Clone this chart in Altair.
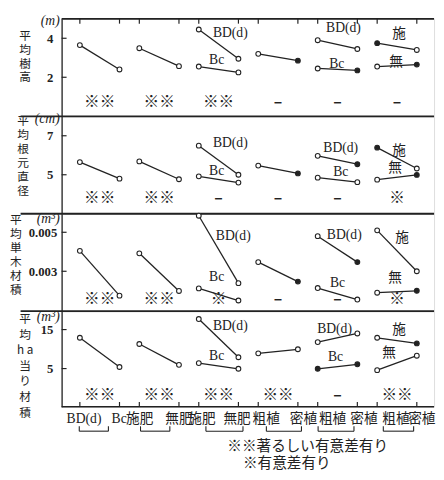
import altair as alt
import pandas as pd

# ---------------- data ----------------
X_LO, X_HI = -0.92, 17.87
X_SEP = -2.99  # left start of separator lines
XPOS = [0, 2, 3, 5, 6, 8, 9, 11, 12, 14, 15, 17]

series_ids = ["G1", "G2", "G3_BD", "G3_Bc", "G4", "G5_BD", "G5_Bc", "G6_shi", "G6_mu"]
series_x1 = [0, 3, 6, 6, 9, 12, 12, 15, 15]
series_x2 = [2, 5, 8, 8, 11, 14, 14, 17, 17]

height_first = [3.65, 3.49, 4.45, 2.55, 3.2, 3.9, 2.45, 3.75, 2.55]
height_second = [2.4, 2.57, 2.95, 2.25, 2.85, 3.45, 2.35, 3.4, 2.65]
diam_first = [5.65, 5.685, 6.49, 4.92, 5.47, 5.97, 4.85, 6.39, 4.75]
diam_second = [4.8, 4.77, 5.0, 4.6, 5.07, 5.54, 4.62, 5.32, 4.99]
vol_first = [0.00405, 0.00392, 0.00585, 0.00212, 0.00347, 0.0048, 0.00214, 0.0051, 0.0019]
vol_second = [0.00175, 0.00199, 0.00239, 0.0015, 0.00247, 0.00347, 0.00155, 0.003, 0.002]
ha_first = [12.9, 11.3, 17.7, 6.4, 8.9, 11.8, 4.95, 12.9, 4.6]
ha_second = [5.4, 5.95, 7.9, 4.95, 9.95, 14.0, 6.1, 11.45, 8.3]

filled_first = [
    [0, 0, 0, 0, 0, 0, 0, 1, 0],
    [0, 0, 0, 0, 0, 0, 0, 1, 0],
    [0, 0, 0, 0, 0, 0, 0, 0, 0],
    [0, 0, 0, 0, 0, 0, 1, 0, 0],
]
filled_second = [
    [0, 0, 0, 0, 1, 0, 1, 0, 1],
    [0, 0, 0, 0, 1, 1, 0, 0, 1],
    [0, 0, 0, 0, 1, 1, 0, 0, 1],
    [0, 0, 0, 0, 0, 0, 1, 1, 0],
]

label_texts = ["BD(d)", "Bc", "BD(d)", "Bc", "施", "無"]
label_x = [
    [7.59, 6.9, 13.3, 12.96, 16.1, 15.95],
    [7.59, 6.9, 13.16, 13.16, 16.1, 15.9],
    [7.74, 6.9, 13.34, 13.0, 16.25, 15.9],
    [7.59, 6.9, 12.85, 12.9, 16.1, 15.6],
]
label_y = [
    [4.25, 2.9, 4.5, 2.7, 4.2, 2.8],
    [6.6, 5.18, 6.38, 5.13, 6.23, 5.35],
    [0.0048, 0.002715, 0.00485, 0.002385, 0.004715, 0.002635],
    [16.0, 8.1, 15.2, 7.9, 14.8, 8.95],
]

marker_x = [1, 4, 7, 10, 13, 16]
marker_texts = [
    ["※※", "※※", "※※", "–", "–", "–"],
    ["※※", "※※", "–", "–", "–", "※"],
    ["※※", "※※", "※", "–", "–", "※"],
    ["※※", "※※", "※※", "※※", "–", "※※"],
]
marker_y = [0.75, 3.8, 0.00155, -1.7]

domains = [[0, 5], [3, 8], [0.00095, 0.00595], [-4.8, 19.7]]
heights = [100, 100, 100, 98]
yticks = [[2, 4], [5, 7], [0.003, 0.005], [5, 15]]
yformats = ["d", "d", ".3f", "d"]
titles = [
    ["平", "均", "樹", "高"],
    ["平", "均", "根", "元", "直", "径"],
    ["平", "均", "単", "木", "材", "積"],
    ["平", "均", "h a", "当", "り", "材", "積"],
]
title_x = [-38, -40, -47.5, -38]
title_y = [12.5, -1, 0.5, 2.5]
title_lh = [14, 14.5, 14.5, 16]
label_pad = [9, 9, 5, 9]
units = ["(m)", "(cm)", "(m³)", "(m³)"]
unit_y = [4.875, 7.85, 0.0057, 18.2]

xlabels = ["BD(d)", "Bc", "施肥", "無肥", "施肥", "無肥", "粗植", "密植", "粗植", "密植", "粗植", "密植"]
xlabel_x = [0.21, 1.98, 3.02, 5.0, 6.16, 7.93, 9.4, 11.28, 12.75, 14.33, 15.95, 17.25]
xlabel_y = -8.05
bracket_start = [-0.03, 3.06, 6.36, 9.41, 12.02, 15.31]
bracket_end = [1.44, 4.54, 8.23, 11.18, 13.83, 16.84]
bracket_y, bracket_top = -11.05, -9.8
legend_texts = ["※※著るしい有意差有り", "※有意差有り"]
legend_x = [7.44, 8.23]
legend_y = [-14.8, -19.3]

panel_first = [height_first, diam_first, vol_first, ha_first]
panel_second = [height_second, diam_second, vol_second, ha_second]

FONT = "'Liberation Serif', 'Noto Sans CJK JP'"
JFONT = "'Noto Sans CJK JP'"
INK = "#222222"


def make_panel(p):
    xs = alt.Scale(domain=[X_LO, X_HI], nice=False, zero=False)
    ys = alt.Scale(domain=domains[p], nice=False, zero=False)
    lo, hi = domains[p]
    span = hi - lo
    axis = alt.Axis(
        values=yticks[p], format=yformats[p], grid=False, tickSize=0,
        labelFont=FONT, labelFontSize=13, labelFontWeight="bold", labelColor=INK,
        labelPadding=label_pad[p], domainColor=INK, domainWidth=1.3,
        title=titles[p], titleAngle=0, titleX=title_x[p], titleY=title_y[p],
        titleAlign="center", titleBaseline="top", titleFont=JFONT,
        titleFontSize=12, titleFontWeight="normal", titleColor=INK,
        titleLineHeight=title_lh[p],
    )
    X = alt.X("x:Q", scale=xs, axis=None)
    Y = alt.Y("y:Q", scale=ys, axis=axis)

    rows = []
    for i, s in enumerate(series_ids):
        rows.append({"s": s, "x": series_x1[i], "y": panel_first[p][i], "f": filled_first[p][i]})
        rows.append({"s": s, "x": series_x2[i], "y": panel_second[p][i], "f": filled_second[p][i]})
    df = pd.DataFrame(rows)

    lines = alt.Chart(df).mark_line(color=INK, strokeWidth=1.3).encode(x=X, y=Y, detail="s:N")
    pts = alt.Chart(df).mark_point(shape="circle", filled=True, size=24, stroke=INK, strokeWidth=1.1, opacity=1).encode(
        x=X, y=Y,
        fill=alt.condition("datum.f == 1", alt.value(INK), alt.value("white")),
    )

    ldf = pd.DataFrame({"t": label_texts, "x": label_x[p], "y": label_y[p]})
    labels = alt.Chart(ldf).mark_text(font=FONT, fontSize=14, color=INK, baseline="middle").encode(x=X, y=Y, text="t:N")

    mdf = pd.DataFrame({"t": marker_texts[p], "x": marker_x, "y": [marker_y[p]] * 6})
    marks = alt.Chart(mdf).mark_text(font=JFONT, fontSize=16, fontWeight="bold", color=INK, baseline="middle").encode(x=X, y=Y, text="t:N")

    udf = pd.DataFrame({"t": [units[p]], "x": [X_LO], "y": [unit_y[p]]})
    unit = alt.Chart(udf).mark_text(font="'Liberation Serif'", fontStyle="italic", fontSize=14, color=INK,
                                     align="right", baseline="middle", dx=-2).encode(x=X, y=Y, text="t:N")

    # top border / separator
    sdf = pd.DataFrame({"x": [X_LO if p == 0 else X_SEP], "x2": [X_HI], "y": [hi]})
    sep = alt.Chart(sdf).mark_rule(color=INK, strokeWidth=1.8).encode(x=X, x2="x2:Q", y=Y)

    # inward y ticks
    tdf = pd.DataFrame({"x": [X_LO] * len(yticks[p]), "x2": [X_LO + 0.25] * len(yticks[p]), "y": yticks[p]})
    yt = alt.Chart(tdf).mark_rule(color=INK, strokeWidth=1.2).encode(x=X, x2="x2:Q", y=Y)

    layers = [sep, yt, lines, pts, labels, marks, unit]

    if p == 0:
        kdf = pd.DataFrame({"x": XPOS, "y": [hi] * 12, "y2": [hi - span * 0.05] * 12})
        layers.append(alt.Chart(kdf).mark_rule(color=INK, strokeWidth=1.2).encode(x=X, y=Y, y2="y2:Q"))
    if p == 3:
        kdf = pd.DataFrame({"x": XPOS, "y": [lo] * 12, "y2": [lo + span * 0.05] * 12})
        layers.append(alt.Chart(kdf).mark_rule(color=INK, strokeWidth=1.2).encode(x=X, y=Y, y2="y2:Q"))
        bdf = pd.DataFrame({"x": [X_LO], "x2": [X_HI], "y": [lo]})
        layers.append(alt.Chart(bdf).mark_rule(color=INK, strokeWidth=1.6).encode(x=X, x2="x2:Q", y=Y))
        xldf = pd.DataFrame({"t": xlabels, "x": xlabel_x, "y": [xlabel_y] * 12})
        layers.append(alt.Chart(xldf).mark_text(font=FONT, fontSize=14, color=INK, baseline="middle").encode(x=X, y=Y, text="t:N"))
        brdf = pd.DataFrame({"x": bracket_start, "x2": bracket_end, "y": [bracket_y] * 6})
        layers.append(alt.Chart(brdf).mark_rule(color=INK, strokeWidth=1.1).encode(x=X, x2="x2:Q", y=Y))
        bvdf = pd.DataFrame({"x": bracket_start + bracket_end, "y": [bracket_y] * 12, "y2": [bracket_top] * 12})
        layers.append(alt.Chart(bvdf).mark_rule(color=INK, strokeWidth=1.1).encode(x=X, y=Y, y2="y2:Q"))
        lgdf = pd.DataFrame({"t": legend_texts, "x": legend_x, "y": legend_y})
        layers.append(alt.Chart(lgdf).mark_text(font=JFONT, fontSize=15, color=INK, align="left", baseline="middle").encode(x=X, y=Y, text="t:N"))

    return alt.layer(*layers).properties(width=382, height=heights[p])


chart = alt.vconcat(*[make_panel(p) for p in range(4)], spacing=0, bounds="flush").resolve_scale(y="independent").properties(
    padding={"left": 0, "top": 0, "right": 0, "bottom": 0}
).configure_view(stroke=None).configure(background="white")

chart.save("out.html", embed_options={"renderer": "svg", "actions": False})
